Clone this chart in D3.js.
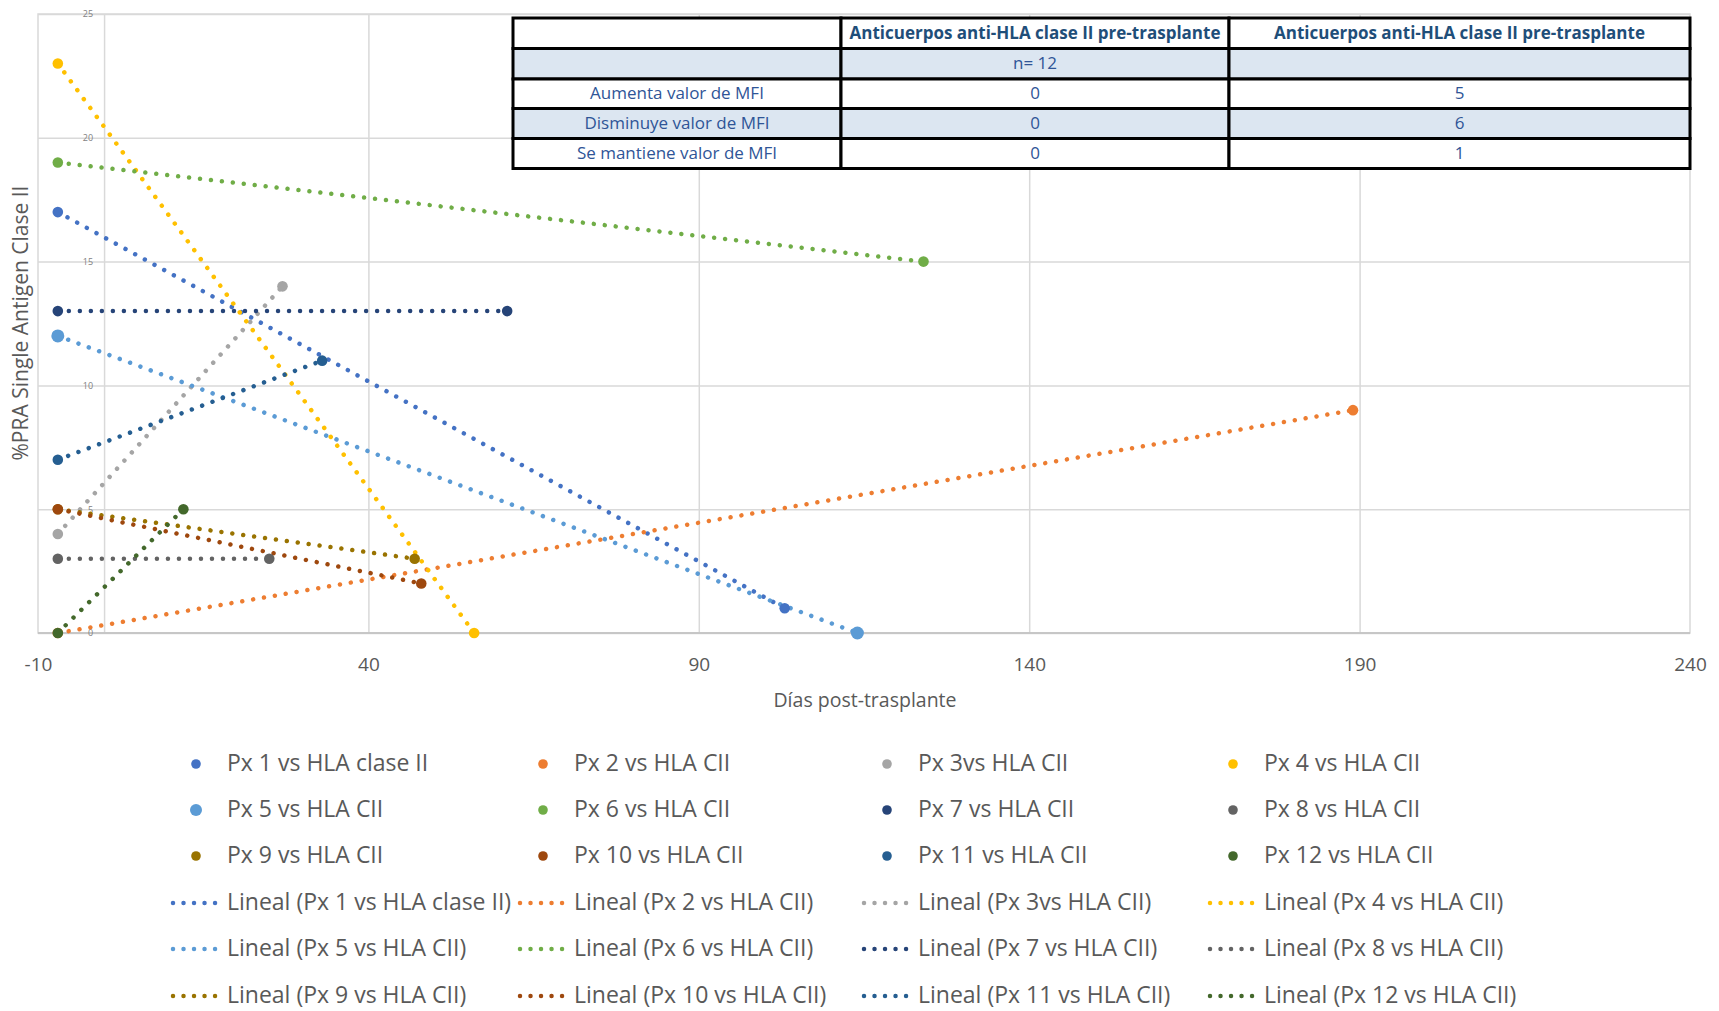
<!DOCTYPE html>
<html>
<head>
<meta charset="utf-8">
<script src="https://cdn.jsdelivr.net/npm/d3@7"></script>
<style>
  body { margin: 0; background: #fff; }
  svg { display: block; }
  .narrow { font-family: "Liberation Sans Narrow", "Open Sans", sans-serif; }
</style>
</head>
<body>
<div id="chart"></div>
<script>
// de gegevens van de grafiek
const pacientes = ["Px 1 vs HLA clase II", "Px 2 vs HLA CII", "Px 3vs HLA CII", "Px 4 vs HLA CII",
                   "Px 5 vs HLA CII", "Px 6 vs HLA CII", "Px 7 vs HLA CII", "Px 8 vs HLA CII",
                   "Px 9 vs HLA CII", "Px 10 vs HLA CII", "Px 11 vs HLA CII", "Px 12 vs HLA CII"]
const diaInicio = [-7, -7, -7, -7, -7, -7, -7, -7, -7, -7, -7, -7]
const diaFinal  = [103, 189, 27, 56, 114, 124, 61, 25, 47, 48, 33, 12]
const praInicio = [17, 0, 4, 23, 12, 19, 13, 3, 5, 5, 7, 0]
const praFinal  = [1, 9, 14, 0, 0, 15, 13, 3, 3, 2, 11, 5]

const xTicks = [-10, 40, 90, 140, 190, 240]
const yTicks = [0, 5, 10, 15, 20, 25]

// tabel
const tablaEncabezado = ["", "Anticuerpos anti-HLA clase II pre-trasplante", "Anticuerpos anti-HLA clase II pre-trasplante"]
const tablaFilas = ["", "Aumenta valor de MFI", "Disminuye valor de MFI", "Se mantiene valor de MFI"]
const tablaCol1 = ["n= 12", "0", "0", "0"]
const tablaCol2 = ["", "5", "6", "1"]

// kleuren (Office palet)
const colores = ["#4472C4", "#ED7D31", "#A5A5A5", "#FFC000", "#5B9BD5", "#70AD47",
                 "#264478", "#636363", "#997300", "#9E480E", "#255E91", "#43682B"]

const width = 1719, height = 1011
const plot = {left: 38, right: 1690, top: 14, bottom: 633}

const svg = d3.select("#chart").append("svg")
    .attr("width", width)
    .attr("height", height)

const x = d3.scaleLinear().domain([-10, 240]).range([plot.left, plot.right])
const y = d3.scaleLinear().domain([0, 25]).range([plot.bottom, plot.top])

// gridlijnen
svg.append("g")
    .attr("transform", "translate(0," + plot.bottom + ")")
    .call(d3.axisBottom(x).tickValues([0, 40, 90, 140, 190]).tickSize(-(plot.bottom - plot.top)).tickFormat(""))
    .call(g => g.select(".domain").remove())
    .selectAll("line").attr("stroke", "#D9D9D9").attr("stroke-width", 1.5)

svg.append("g")
    .attr("transform", "translate(" + plot.left + ",0)")
    .call(d3.axisLeft(y).tickValues(yTicks).tickSize(-(plot.right - plot.left)).tickFormat(""))
    .call(g => g.select(".domain").remove())
    .selectAll("line").attr("stroke", "#D9D9D9").attr("stroke-width", 1.5)

svg.append("rect")
    .attr("x", plot.left).attr("y", plot.top)
    .attr("width", plot.right - plot.left).attr("height", plot.bottom - plot.top)
    .attr("fill", "none").attr("stroke", "#D9D9D9").attr("stroke-width", 1.5)

svg.append("line")
    .attr("x1", plot.left).attr("x2", plot.right)
    .attr("y1", plot.bottom).attr("y2", plot.bottom)
    .attr("stroke", "#BFBFBF").attr("stroke-width", 1.5)

// x-as labels
svg.append("g")
    .attr("transform", "translate(0," + plot.bottom + ")")
    .call(d3.axisBottom(x).tickValues(xTicks).tickSize(0).tickPadding(25).tickFormat(d => String(d)))
    .call(g => g.select(".domain").remove())
    .selectAll("text")
    .attr("class", "narrow")
    .style("font-size", "19px")
    .attr("fill", "#595959")

// y-as labels (klein, bij x = 0)
svg.append("g")
    .attr("transform", "translate(" + x(0) + ",0)")
    .call(d3.axisLeft(y).tickValues(yTicks).tickSize(0).tickPadding(11))
    .call(g => g.select(".domain").remove())
    .selectAll("text")
    .attr("class", "narrow")
    .style("font-size", "9px")
    .attr("fill", "#7F7F7F")

// as titels
svg.append("text")
    .attr("class", "narrow")
    .attr("x", 865).attr("y", 702)
    .attr("text-anchor", "middle").attr("dominant-baseline", "middle")
    .style("font-size", "19.5px").attr("fill", "#595959")
    .text("Días post-trasplante")

svg.append("text")
    .attr("transform", "translate(22,323) rotate(-90)")
    .attr("text-anchor", "middle").attr("dominant-baseline", "middle")
    .style("font-family", "'Open Sans', sans-serif")
    .style("font-size", "21px").attr("fill", "#595959")
    .text("%PRA Single Antigen Clase II")

// series bouwen
const series = pacientes.map(function(nombre, i) {
  return {
    nombre: nombre,
    color: colores[i],
    puntos: [{dia: diaInicio[i], pra: praInicio[i]}, {dia: diaFinal[i], pra: praFinal[i]}]
  }
})

// lineaire trendlijn (kleinste kwadraten)
function tendencia(puntos) {
  const mx = d3.mean(puntos, d => d.dia), my = d3.mean(puntos, d => d.pra)
  const sxy = d3.sum(puntos, d => (d.dia - mx) * (d.pra - my))
  const sxx = d3.sum(puntos, d => (d.dia - mx) * (d.dia - mx))
  const b = sxy / sxx, a = my - b * mx
  const ext = d3.extent(puntos, d => d.dia)
  return ext.map(v => ({dia: v, pra: a + b * v}))
}

const linea = d3.line().x(d => x(d.dia)).y(d => y(d.pra))

svg.append("g").selectAll("path")
    .data(series)
    .enter().append("path")
    .attr("d", d => linea(tendencia(d.puntos)))
    .attr("fill", "none")
    .attr("stroke", d => d.color)
    .attr("stroke-width", 4.5)
    .attr("stroke-linecap", "round")
    .attr("stroke-dasharray", "0.01 11")

svg.append("g").selectAll("g")
    .data(series)
    .enter().append("g")
    .selectAll("circle")
    .data(d => d.puntos.map(p => ({p: p, s: d})))
    .enter().append("circle")
    .attr("cx", d => x(d.p.dia))
    .attr("cy", d => y(d.p.pra))
    .attr("r", d => d.s.nombre.startsWith("Px 5") ? 6.5 : 5.3)
    .attr("fill", d => d.s.color)

// tabel
const tabla = svg.append("g").attr("class", "narrow")
const colX = [513, 841, 1229, 1690]
const rowY = [18, 48.5, 79, 108.5, 138.5, 168.5]
const celdas = []
for (let r = 0; r < 5; r++) {
  for (let c = 0; c < 3; c++) {
    let t
    if (r === 0) t = tablaEncabezado[c]
    else if (c === 0) t = tablaFilas[r - 1]
    else if (c === 1) t = tablaCol1[r - 1]
    else t = tablaCol2[r - 1]
    celdas.push({r: r, c: c, t: t})
  }
}
tabla.selectAll("rect")
    .data(celdas)
    .enter().append("rect")
    .attr("x", d => colX[d.c]).attr("y", d => rowY[d.r])
    .attr("width", d => colX[d.c + 1] - colX[d.c])
    .attr("height", d => rowY[d.r + 1] - rowY[d.r])
    .attr("fill", d => (d.r === 1 || d.r === 3) ? "#DCE6F1" : "#fff")
    .attr("stroke", "#000").attr("stroke-width", 3)
tabla.selectAll("text")
    .data(celdas)
    .enter().append("text")
    .attr("x", d => (colX[d.c] + colX[d.c + 1]) / 2)
    .attr("y", d => (rowY[d.r] + rowY[d.r + 1]) / 2 + 1)
    .attr("text-anchor", "middle").attr("dominant-baseline", "middle")
    .style("font-size", "17px")
    .style("font-weight", d => d.r === 0 ? "bold" : "normal")
    .attr("fill", d => d.r === 0 ? "#1F4E79" : "#2F5597")
    .text(d => d.t)

// legenda
const legX = [170, 517, 861, 1207]
const legY = [764, 810, 856, 903, 949, 996]
const leyenda = svg.append("g").attr("class", "narrow")
const items = []
series.forEach(function(s, i) { items.push({tipo: "punto", s: s, i: i}) })
series.forEach(function(s, i) { items.push({tipo: "linea", s: s, i: i + 12}) })

const item = leyenda.selectAll("g")
    .data(items)
    .enter().append("g")
    .attr("transform", d => "translate(" + legX[d.i % 4] + "," + legY[Math.floor(d.i / 4)] + ")")

item.filter(d => d.tipo === "punto").append("circle")
    .attr("cx", 26).attr("cy", 0)
    .attr("r", d => d.s.nombre.startsWith("Px 5") ? 6 : 4.8)
    .attr("fill", d => d.s.color)
item.filter(d => d.tipo === "linea").append("line")
    .attr("x1", 3).attr("x2", 48).attr("y1", 0).attr("y2", 0)
    .attr("stroke", d => d.s.color)
    .attr("stroke-width", 4.5)
    .attr("stroke-linecap", "round")
    .attr("stroke-dasharray", "0.01 10.5")
item.append("text")
    .attr("x", 57).attr("y", 1)
    .attr("dominant-baseline", "middle")
    .style("font-size", "23px")
    .attr("fill", "#595959")
    .text(d => d.tipo === "punto" ? d.s.nombre : "Lineal (" + d.s.nombre + ")")
</script>
</body>
</html>
